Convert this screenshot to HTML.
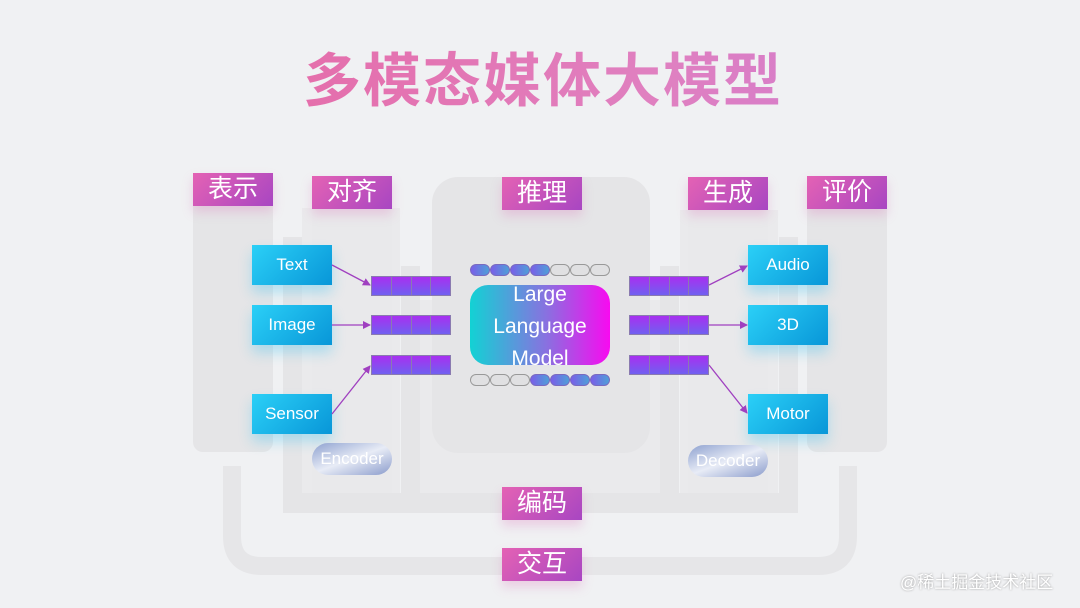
<!DOCTYPE html>
<html><head><meta charset="utf-8"><style>
*{margin:0;padding:0;box-sizing:border-box}
body{width:1080px;height:608px;background:#f0f1f3;position:relative;overflow:hidden;font-family:"Liberation Sans","Noto Sans CJK SC",sans-serif}
.a{position:absolute}
.g{position:absolute;background:#e5e5e7}
.l{position:absolute;background:#eaeaec}
.lab{position:absolute;width:80px;height:33px;background:linear-gradient(135deg,#e462b4,#a846c2);color:#fff;font-size:25px;line-height:33px;text-align:center;box-shadow:0 6px 10px rgba(220,100,180,.25)}
.blue{position:absolute;width:80px;height:40px;background:linear-gradient(135deg,#2bd0f7,#0896d8);color:#fff;font-size:17px;line-height:40px;text-align:center;box-shadow:0 8px 12px rgba(40,190,240,.3)}
.tok{position:absolute;width:80px;height:20px;display:flex;border:1px solid #8a7ab0}
.tok span{flex:1;background:linear-gradient(180deg,#a830f0,#7060f0);border-right:1px solid #8a7ab0}
.tok span:last-child{border-right:none}
.pills{position:absolute;display:flex;width:140px;height:12px}
.pills span{flex:1;border-radius:6px;border:1px solid #999;background:#e0e0e2}
.pills span.f{background:linear-gradient(90deg,#7a5ee8,#4fa0d8);border-color:#7a6ac0}
.pill2{position:absolute;width:80px;height:32px;border-radius:16px;background:linear-gradient(160deg,#8fa2d0,#e8ecf6 50%,#8b9ccc);color:#fff;font-size:17px;line-height:32px;text-align:center}
</style></head><body>
<div class="a" style="left:0;top:48px;width:1086px;text-align:center;font-size:58px;font-weight:bold;line-height:68px;letter-spacing:2px;color:#e06aaa;background:linear-gradient(90deg,#e9609a,#e080c0 60%,#c878d8);-webkit-background-clip:text;background-clip:text;-webkit-text-fill-color:transparent">多模态媒体大模型</div>

<svg class="a" style="left:0;top:0" width="1080" height="608">
<path d="M232 466 V536 Q232 566 262 566 H818 Q848 566 848 536 V466" fill="none" stroke="#e6e6e8" stroke-width="18"/>
</svg>
<!-- lighter lower boxes -->
<div class="l" style="left:302px;top:208px;width:98px;height:285px"></div>
<div class="l" style="left:680px;top:210px;width:98px;height:283px"></div>
<div class="l" style="left:420px;top:300px;width:240px;height:193px"></div>
<div class="g" style="left:283px;top:493px;width:515px;height:20px"></div>
<div class="g" style="left:193px;top:206px;width:80px;height:246px;border-radius:0 0 10px 10px"></div>
<div class="g" style="left:807px;top:208px;width:80px;height:244px;border-radius:0 0 10px 10px"></div>
<div class="g" style="left:312px;top:208px;width:80px;height:285px;background:#e9e9eb"></div>
<div class="g" style="left:688px;top:210px;width:80px;height:283px;background:#e9e9eb"></div>
<div class="g" style="left:283px;top:237px;width:19px;height:276px"></div>
<div class="g" style="left:779px;top:237px;width:19px;height:276px"></div>
<div class="g" style="left:401px;top:266px;width:19px;height:230px"></div>
<div class="g" style="left:660px;top:266px;width:19px;height:230px"></div>
<div class="g" style="left:432px;top:177px;width:218px;height:276px;border-radius:26px"></div>

<div class="lab" style="left:193px;top:173px">表示</div>
<div class="lab" style="left:312px;top:176px">对齐</div>
<div class="lab" style="left:502px;top:177px">推理</div>
<div class="lab" style="left:688px;top:177px">生成</div>
<div class="lab" style="left:807px;top:176px">评价</div>
<div class="lab" style="left:502px;top:487px">编码</div>
<div class="lab" style="left:502px;top:548px">交互</div>

<div class="blue" style="left:252px;top:245px">Text</div>
<div class="blue" style="left:252px;top:305px">Image</div>
<div class="blue" style="left:252px;top:394px">Sensor</div>
<div class="blue" style="left:748px;top:245px">Audio</div>
<div class="blue" style="left:748px;top:305px">3D</div>
<div class="blue" style="left:748px;top:394px">Motor</div>

<div class="tok" style="left:371px;top:276px"><span></span><span></span><span></span><span></span></div>
<div class="tok" style="left:371px;top:315px"><span></span><span></span><span></span><span></span></div>
<div class="tok" style="left:371px;top:355px"><span></span><span></span><span></span><span></span></div>
<div class="tok" style="left:629px;top:276px"><span></span><span></span><span></span><span></span></div>
<div class="tok" style="left:629px;top:315px"><span></span><span></span><span></span><span></span></div>
<div class="tok" style="left:629px;top:355px"><span></span><span></span><span></span><span></span></div>

<div class="pills" style="left:470px;top:264px"><span class="f"></span><span class="f"></span><span class="f"></span><span class="f"></span><span></span><span></span><span></span></div>
<div class="pills" style="left:470px;top:374px"><span></span><span></span><span></span><span class="f"></span><span class="f"></span><span class="f"></span><span class="f"></span></div>

<div class="a" style="left:470px;top:285px;width:140px;height:80px;border-radius:18px;background:linear-gradient(90deg,#12d2d4,#8a70e0 55%,#f80af0)"></div>
<div class="a" style="left:460px;top:279px;width:160px;text-align:center;color:#fff;font-size:21px;line-height:32px">Large<br>Language<br>Model</div>

<svg class="a" style="left:0;top:0" width="1080" height="608">
<defs><marker id="m" markerWidth="8" markerHeight="8" refX="7" refY="4" orient="auto" markerUnits="userSpaceOnUse"><path d="M0 0 L8 4 L0 8 Z" fill="#a040c0"/></marker></defs>
<g stroke="#a040c0" stroke-width="1.3" fill="none" marker-end="url(#m)">
<line x1="332" y1="265" x2="370" y2="285"/>
<line x1="332" y1="325" x2="370" y2="325"/>
<line x1="332" y1="414" x2="370" y2="366"/>
<line x1="709" y1="285" x2="747" y2="266"/>
<line x1="709" y1="325" x2="747" y2="325"/>
<line x1="709" y1="365" x2="747" y2="413"/>
</g></svg>

<div class="pill2" style="left:312px;top:443px">Encoder</div>
<div class="pill2" style="left:688px;top:445px">Decoder</div>

<div class="a" style="left:900px;top:568px;color:#fff;font-size:17px;text-shadow:0 0 2px #999">@稀土掘金技术社区</div>
</body></html>
